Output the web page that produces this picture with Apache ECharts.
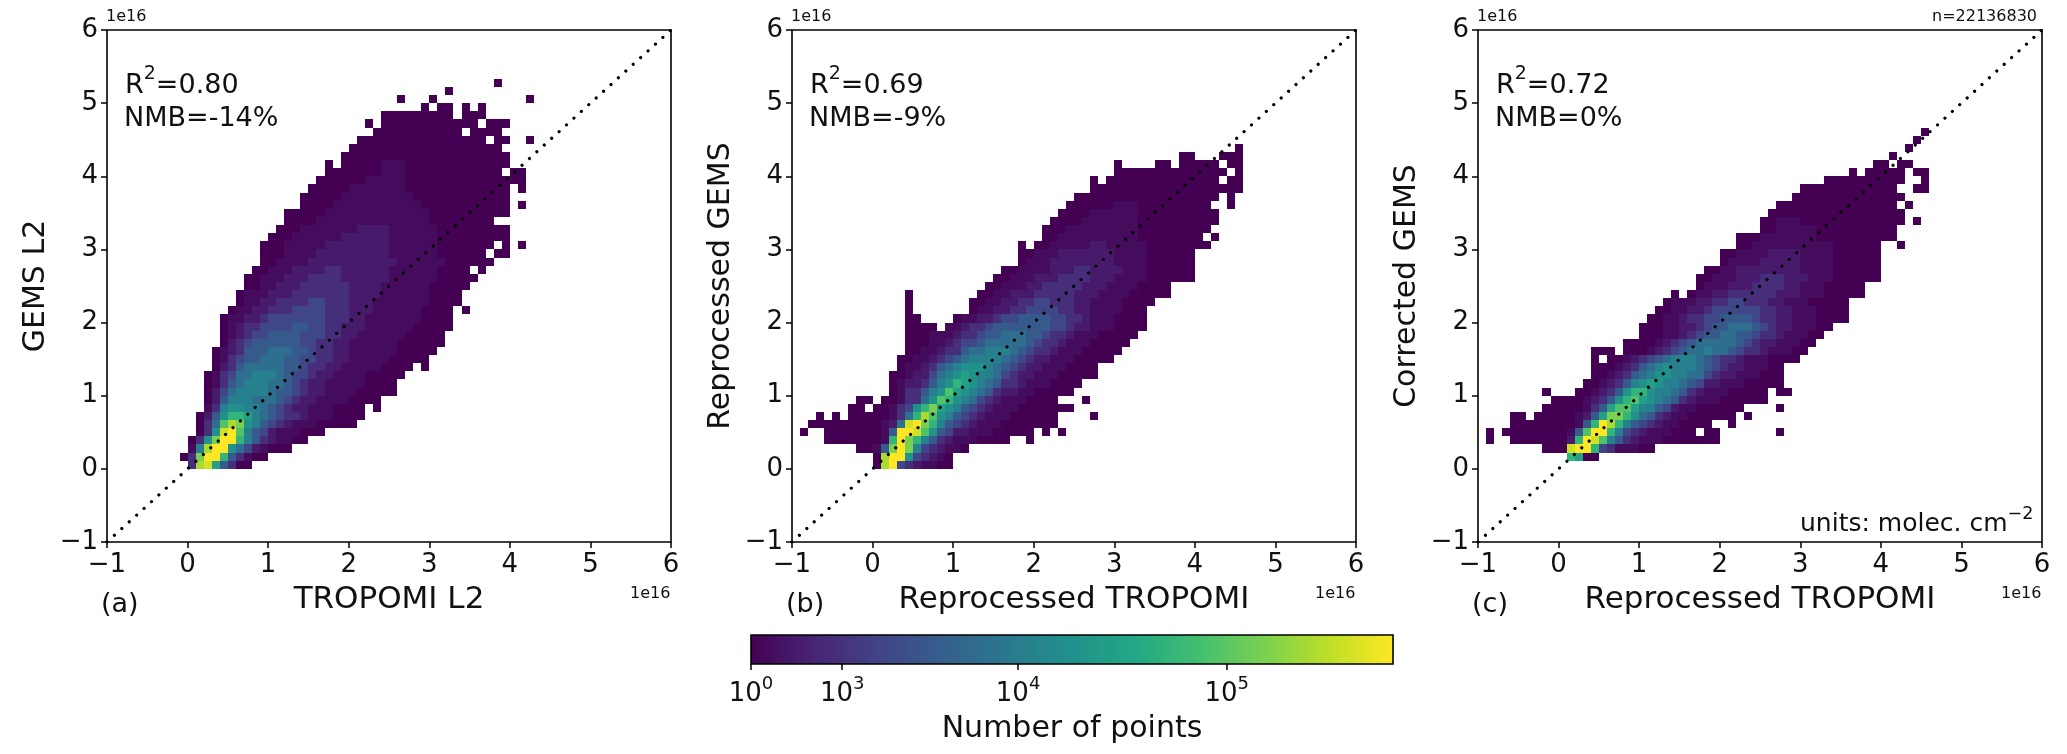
<!DOCTYPE html>
<html><head><meta charset="utf-8">
<style>html,body{margin:0;padding:0;background:#fff}#c{width:2067px;height:754px}</style>
<script src="https://cdn.jsdelivr.net/npm/echarts@6/dist/echarts.min.js"></script>
</head><body><div id="c"></div>
<script>
// Each row: [y bin above 0, x bin of first cell relative to 0, colour levels 0-f per cell, "." = empty]
const panelARows = [
[0,0,"3de95300"],[1,-1,"03cffa53100"],[2,0,"17dff86421000"],[3,0,"038cffa75321100"],
[4,1,"038efb7542111000"],[5,1,"036bdc87543211100000"],[6,1,"0258aa976543321110000"],
[7,2,"13788776543221110000.0"],[8,2,"0257776665432211110000"],[9,2,"024677776554322111100000"],
[10,2,"013567776654322111110000"],[11,2,"0134667776544322111100000"],[12,3,"0235666665543322111110000.0"],
[13,3,"013455666554433221111100000"],[14,3,"0123555666554332211111100000"],[15,4,"0234555555443322111111000000"],
[16,4,"0123445555444332211111100000"],[17,4,"01233444455443322211111100000"],[18,4,"01122344444443332211111110000"],
[19,5,"0112233344443332221111110000.0"],[20,6,"0112233334433322211111110000"],[21,6,"0111222333333322221111110000"],
[22,7,"0011222333333222211111100000"],[23,7,"00111222333322222211111100000"],[24,8,"001112222332222221111110000.0"],
[25,9,"00111122222222222111111000000"],[26,9,"0001111222222222111111000000.00"],[27,9,"00011111222222221111110000000.0.0"],
[28,10,"000111111222222111111000000000"],[29,11,"00011111112222111111000000000"],[30,12,"00001111111111111100000000"],
[31,12,"0000011111111111110000000000"],[32,14,"00001111111111100000000000.0"],[33,14,"00000111111111000000000000"],
[34,15,"0000011111110000000000000.0"],[35,16,"00000011111000000000000000"],[36,17,"0000000111000000000000.00"],
[37,17,"0.000001110000000000000"],[38,19,"000000000000000000000"],[39,20,"0000000000000000000"],
[40,21,"0000000000000000.00..0"],[41,23,"00000000000.0000"],[42,22,"0.000000000000.000"],
[43,24,"000000000.000"],[44,29,"0.00.0.0"],[45,26,"0...0...........0"],[46,32,"0"],[47,38,"0"]
];
const panelBRows = [
[0,0,"0df4321100"],[1,0,"0dff843210"],[2,-2,"0015cfc7432110"],[3,-6,"00000001afca75321110000..0"],
[4,-9,"0..000000015ffeb8542211100000.0.0"],[5,-8,"000000000126efca754321110000000"],
[6,-7,"0.0.00000136adb875432111000000....0"],[7,-3,"00.001348ac98754321110000000"],
[8,-2,"00.0013368ba8764321110000...0"],[9,2,"0133578b987653221100000"],
[10,2,"01223578a987653321110000"],[11,2,"00122467898776432211100000"],[12,3,"0112356788876543221110000"],
[13,3,"001123456777765432211100000"],[14,4,"001123356677765433211100000"],[15,4,"0001123445666665433211100000"],
[16,4,"00011123345566655433211100000"],[17,4,"0000.1123345555555443221110000"],[18,4,"00....011223445555443321110000"],
[19,4,"0.......0112233444433221111000"],[20,4,"0.......00112233443332211110000"],[21,4,"0........001122233333222111100000"],
[22,14,"00111223333322211110000"],[23,15,"0011122233332221111000000"],[24,16,"001111222332222111000000"],
[25,18,"0111222222221111000000"],[26,18,"0011122222221111000000"],[27,18,"0.0011111221111100000000"],
[28,21,"00111111111100000000.0"],[29,21,"000111111111000000000"],[30,22,"000011111110000000000"],
[31,23,"00001111110000000000"],[32,24,"000000111000000000..0"],[33,25,"000000000000000000.0"],
[34,27,"0000000000000000000"],[35,27,"0.00000000000000.00"],[36,30,"00000000000000.0"],
[37,30,"0....00.00000.00"],[38,38,"00...000"],[39,45,"0"]
];
const panelCRows = [
[1,1,"a900"],[2,-2,"000effa4311100"],[3,-9,"0..00000002afeb75321110000000"],
[4,-9,"0.0000000015bffa7432111000.00.......0"],[5,-6,"0000000015afda75432110000..0"],
[6,-6,"00.000001259cca8653211000000.0"],[7,-2,"000001359bb97754211000000....0"],
[8,-1,"000012358ab9876532111000000"],[9,-2,"0...0012358aa877653211100000.00"],
[10,3,"0012357898776542211100000"],[11,4,"001235678877664322111000"],
[12,4,"000123567877765432211100"],[13,4,"0.001234567776543321110000"],[14,4,"000.00012345667665433211100"],
[15,8,"000012345666665432211100"],[16,10,"00011234556655433211100"],[17,10,"000112234556665432211100"],
[18,11,"0011233445555433221110000"],[19,12,"001122344444433221110000"],[20,13,"01112233443332211100000"],
[21,14,"0.0112233333322211100000"],[22,17,"011122233332211100000"],[23,17,"00111222333222111000000"],
[24,18,"0011222222221111000000"],[25,20,"01111222221111000000"],[26,20,"00111122221111000000"],
[27,22,"001111111111000000..0"],[28,22,"00011111110000000000"],[29,25,"00111110000000000"],
[30,25,"001110000000000000.0"],[31,26,"00000000000000000"],[32,27,"000000000000000.0"],
[33,29,"00000000000000"],[34,30,"000000000000..00"],[35,33,"0000000000..0"],
[36,36,"0.00000.00"],[37,39,"00.00"],[38,41,"0"],[39,43,"0"],[40,44,"0"],[41,45,"0"]
];
// position on the colour bar (0-1) read for each level 0-f
const levelPositions = [0,0.03,0.07,0.13,0.21,0.28,0.36,0.43,0.5,0.57,0.65,0.72,0.8,0.87,0.93,1];
const diagonalLine = [[-1,-1],[6,6]];
const xBinWidth = 0.1, yBinHeight = 1/9;
const viridis = ['#440154','#482576','#414487','#355f8d','#2a788e','#21918c','#22a884','#44bf70','#7ad151','#bddf26','#fde725'];
const colorbarTickPos = [0,0.142,0.416,0.741];
const colorbarTickPow = ['0','3','4','5'];
const panels = [
 {left:107,right:671,rows:panelARows,xName:'TROPOMI L2',yName:'GEMS L2',r2:'0.80',nmb:'-14%',tag:'(a)'},
 {left:792,right:1356,rows:panelBRows,xName:'Reprocessed TROPOMI',yName:'Reprocessed GEMS',r2:'0.69',nmb:'-9%',tag:'(b)'},
 {left:1478,right:2042,rows:panelCRows,xName:'Reprocessed TROPOMI',yName:'Corrected GEMS',r2:'0.72',nmb:'0%',tag:'(c)'}
];
const TOP=30,BOTTOM=542,FF='"DejaVu Sans"',W=2067,H=754;
function cells(rows){
  const out=[];
  rows.forEach(([r,k0,s])=>{[...s].forEach((ch,i)=>{ if(ch!=='.') out.push([(k0+i)*xBinWidth, r*yBinHeight, levelPositions[parseInt(ch,16)]]); });});
  return out;
}
const renderCell=(p,api)=>{
  const a=api.coord([api.value(0),api.value(1)]), b=api.coord([api.value(0)+xBinWidth,api.value(1)+yBinHeight]);
  const x0=Math.round(a[0]),x1=Math.round(b[0]),y0=Math.round(b[1]),y1=Math.round(a[1]);
  return {type:'rect',shape:{x:x0,y:y0,width:x1-x0,height:y1-y0},style:{fill:api.visual('color')}};
};
const minusFmt=v=>String(v).replace('-','\u2212');
const grids=[],xAxes=[],yAxes=[],series=[],graphics=[];
panels.forEach((p,i)=>{
  grids.push({left:p.left,top:TOP,width:p.right-p.left,height:BOTTOM-TOP,show:true,borderColor:'#000',borderWidth:1.6,backgroundColor:'#fff'});
  const lab={color:'#111',fontFamily:FF,fontSize:26,formatter:minusFmt};
  xAxes.push({gridIndex:i,type:'value',min:-1,max:6,interval:1,splitLine:{show:false},axisLine:{show:false,onZero:false},
    axisTick:{length:6,lineStyle:{color:'#000',width:1.5}},axisLabel:{...lab,margin:10},
    name:p.xName,nameLocation:'middle',nameGap:42,nameTextStyle:{fontFamily:FF,fontSize:31,color:'#111'}});
  yAxes.push({gridIndex:i,type:'value',min:-1,max:6,interval:1,splitLine:{show:false},axisLine:{show:false,onZero:false},
    axisTick:{length:6,lineStyle:{color:'#000',width:1.5}},axisLabel:{...lab,margin:9},
    name:p.yName,nameLocation:'middle',nameGap:56,nameTextStyle:{fontFamily:FF,fontSize:30,color:'#111'}});
  series.push({type:'custom',xAxisIndex:i,yAxisIndex:i,coordinateSystem:'cartesian2d',renderItem:renderCell,data:cells(p.rows),encode:{x:0,y:1},animation:false,silent:true,clip:true});
  series.push({type:'line',xAxisIndex:i,yAxisIndex:i,data:diagonalLine,showSymbol:false,silent:true,animation:false,z:5,
    lineStyle:{color:'#000',width:3.2,type:[0.01,10],cap:'round'}});
  const txt=(x,y,text,fs,rich)=>graphics.push({type:'text',x,y,z:20,style:{text,fill:'#111',fontFamily:FF,fontSize:fs,rich:rich||{}}});
  txt(p.left+18,TOP+35,'{a|R}{s|2}{a|='+p.r2+'}',27,{a:{fontSize:27,fontFamily:FF,fill:'#111',lineHeight:34,verticalAlign:'bottom'},s:{fontSize:19,fontFamily:FF,fill:'#111',lineHeight:34,verticalAlign:'top'}});
  txt(p.left+17,TOP+75,'NMB='+p.nmb,27);
  txt(p.left-1,TOP-21,'1e16',16);
  txt(p.right-41,BOTTOM+44,'1e16',16);
  txt(p.left-6,BOTTOM+49,p.tag,27);
});
graphics.push({type:'text',x:1932,y:9,z:20,style:{text:'n=22136830',fontFamily:FF,fontSize:16,fill:'#111'}});
graphics.push({type:'text',x:1800,y:505,z:20,style:{text:'{a|units: molec. cm}{s|\u22122}',rich:{a:{fontSize:25,fontFamily:FF,fill:'#111',lineHeight:32,verticalAlign:'bottom'},s:{fontSize:17.5,fontFamily:FF,fill:'#111',lineHeight:32,verticalAlign:'top'}}}});
// colour bar axis
grids.push({left:751,top:635,width:642,height:29,show:true,borderColor:'#000',borderWidth:1.6,backgroundColor:'transparent',z:10});
xAxes.push({gridIndex:3,type:'value',min:0,max:1,splitLine:{show:false},axisLine:{show:false,onZero:false},
  axisTick:{show:true,length:6,customValues:colorbarTickPos,lineStyle:{color:'#000',width:1.5}},
  axisLabel:{show:true,customValues:colorbarTickPos,margin:11,color:'#111',fontFamily:FF,
    formatter:v=>'{b|10}{s|'+colorbarTickPow[colorbarTickPos.indexOf(v)]+'}',
    rich:{b:{fontSize:26,fontFamily:FF,color:'#111',lineHeight:32,verticalAlign:'bottom'},s:{fontSize:18,fontFamily:FF,color:'#111',lineHeight:32,verticalAlign:'top'}}},
  name:'Number of points',nameLocation:'middle',nameGap:50,nameTextStyle:{fontFamily:FF,fontSize:30,color:'#111'}});
yAxes.push({gridIndex:3,type:'value',min:0,max:1,show:false});
const chart=echarts.init(document.getElementById('c'),null,{renderer:'canvas',width:W,height:H});
chart.setOption({
  animation:false,backgroundColor:'#fff',grid:grids,xAxis:xAxes,yAxis:yAxes,series,graphic:graphics,tooltip:{show:false},
  visualMap:{type:'continuous',min:0,max:1,dimension:2,seriesIndex:[0,2,4],orient:'horizontal',left:751,top:635,itemWidth:29,itemHeight:642,
    calculable:false,hoverLink:false,realtime:false,padding:0,text:null,showLabel:false,inRange:{color:viridis},textStyle:{fontSize:0}}
});
</script></body></html>
